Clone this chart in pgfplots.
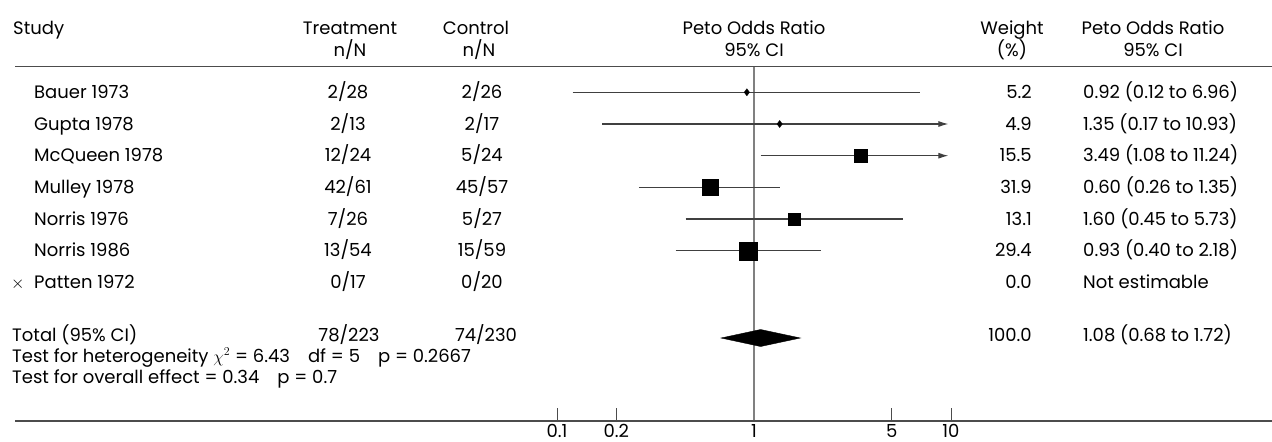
\documentclass[border=0pt]{standalone}
\usepackage{pgfplots}
\pgfplotsset{compat=1.18}
\usetikzlibrary{arrows.meta}
\usepackage{fontspec}
\setmainfont{Poppins}

\definecolor{rule}{gray}{0.3}
\definecolor{ci}{gray}{0.25}
\definecolor{ref}{gray}{0.5}

\newcommand{\txt}{\fontsize{18bp}{21bp}\selectfont}

\begin{document}
\begin{tikzpicture}[font=\txt]
\useasboundingbox (0,0) rectangle (1272bp,-442bp);

\begin{axis}[
    at={(557bp,-422bp)}, anchor=south west,
    scale only axis,
    width=394bp, height=356bp,
    xmode=log, xmin=0.1, xmax=10,
    ymin=66, ymax=422, y dir=reverse,
    axis line style={draw=none},
    ytick=\empty,
    xtick={0.1,0.2,1,5,10},
    xticklabels={0.1,0.2,1,5,10},
    xminorticks=false,
    xtick pos=lower,
    tick align=inside,
    major tick length=14bp,
    tick style={rule, line width=1bp},
    xticklabel style={font=\txt, inner sep=2bp},
    clip=false,
]
    % line of no effect
    \addplot[ref, line width=1.2bp] coordinates {(1,66) (1,421)};

    % confidence intervals
    \addplot[ci, line width=1.1bp] coordinates {(0.12,92.3) (6.96,92.3)};
    \addplot[ci, line width=1.1bp, -{Latex[length=10bp,width=6bp]}] coordinates {(0.17,124) (9.7,124)};
    \addplot[ci, line width=1.1bp, -{Latex[length=10bp,width=6bp]}] coordinates {(1.08,155.7) (9.7,155.7)};
    \addplot[ci, line width=1.1bp] coordinates {(0.26,187.4) (1.35,187.4)};
    \addplot[ci, line width=1.1bp] coordinates {(0.45,219) (5.73,219)};
    \addplot[ci, line width=1.1bp] coordinates {(0.40,250.7) (2.18,250.7)};

    % point estimates, box size from weight
    \addplot[only marks, mark=diamond*, mark size=3.5bp, black] coordinates {(0.92,92.3)};
    \addplot[only marks, mark=diamond*, mark size=3.5bp, black] coordinates {(1.35,124)};
    \addplot[only marks, mark=square*, mark size=6.7bp, black] coordinates {(3.49,155.7)};
    \addplot[only marks, mark=square*, mark size=8bp, black] coordinates {(0.60,187.4)};
    \addplot[only marks, mark=square*, mark size=6.3bp, black] coordinates {(1.60,219)};
    \addplot[only marks, mark=square*, mark size=9bp, black] coordinates {(0.93,250.7)};

    % pooled estimate
    \addplot[fill=black, draw=black] coordinates {(0.68,338) (1.08,329.5) (1.72,338) (1.08,346.5)} -- cycle;
\end{axis}

\begin{scope}[x=1bp, y=-1bp]
    \draw[rule, line width=1.2bp] (15,66.5) -- (1272,66.5);
    \draw[rule, line width=1.2bp] (15,421) -- (1272,421);

    % headers
    \node[anchor=base west, inner sep=0] at (13,34) {Study};
    \node[anchor=base, inner sep=0] at (350,34) {Treatment};
    \node[anchor=base, inner sep=0] at (350,56) {n/N};
    \node[anchor=base, inner sep=0] at (476,34) {Control};
    \node[anchor=base, inner sep=0] at (479,56) {n/N};
    \node[anchor=base, inner sep=0] at (754,34) {Peto Odds Ratio};
    \node[anchor=base, inner sep=0] at (754,56) {95\% CI};
    \node[anchor=base, inner sep=0] at (1012,34) {Weight};
    \node[anchor=base, inner sep=0] at (1012,56) {(\%)};
    \node[anchor=base, inner sep=0] at (1153,34) {Peto Odds Ratio};
    \node[anchor=base, inner sep=0] at (1153,56) {95\% CI};

    % study rows
    \foreach \yy/\name/\tr/\co/\wt/\orr in {
        92.3/Bauer 1973/2\slash28/2\slash26/5.2/0.92 (0.12 to 6.96),
        124/Gupta 1978/2\slash13/2\slash17/4.9/1.35 (0.17 to 10.93),
        155.7/McQueen 1978/12\slash24/5\slash24/15.5/3.49 (1.08 to 11.24),
        187.4/Mulley 1978/42\slash61/45\slash57/31.9/0.60 (0.26 to 1.35),
        219/Norris 1976/7\slash26/5\slash27/13.1/1.60 (0.45 to 5.73),
        250.7/Norris 1986/13\slash54/15\slash59/29.4/0.93 (0.40 to 2.18),
        282.4/Patten 1972/0\slash17/0\slash20/0.0/Not estimable}{
        \node[anchor=base west, inner sep=0] at (34,\yy+6) {\name};
        \node[anchor=base, inner sep=0] at (348,\yy+6) {\tr};
        \node[anchor=base, inner sep=0] at (482,\yy+6) {\co};
        \node[anchor=base east, inner sep=0] at (1032,\yy+6) {\wt};
        \node[anchor=base west, inner sep=0] at (1083,\yy+6) {\orr};
    }
    \node[anchor=base west, inner sep=0] at (11,288.4) {$\times$};

    % total and tests
    \node[anchor=base west, inner sep=0] at (12,341) {Total (95\% CI)};
    \node[anchor=base, inner sep=0] at (349,341) {78/223};
    \node[anchor=base, inner sep=0] at (486,341) {74/230};
    \node[anchor=base east, inner sep=0] at (1032,341) {100.0};
    \node[anchor=base west, inner sep=0] at (1083,341) {1.08 (0.68 to 1.72)};
    \node[anchor=base west, inner sep=0] at (12,362) {Test for heterogeneity $\chi^2$ = 6.43\hspace{18bp}df = 5\hspace{18bp}p = 0.2667};
    \node[anchor=base west, inner sep=0] at (12,383) {Test for overall effect = 0.34\hspace{18bp}p = 0.7};
\end{scope}
\end{tikzpicture}
\end{document}
